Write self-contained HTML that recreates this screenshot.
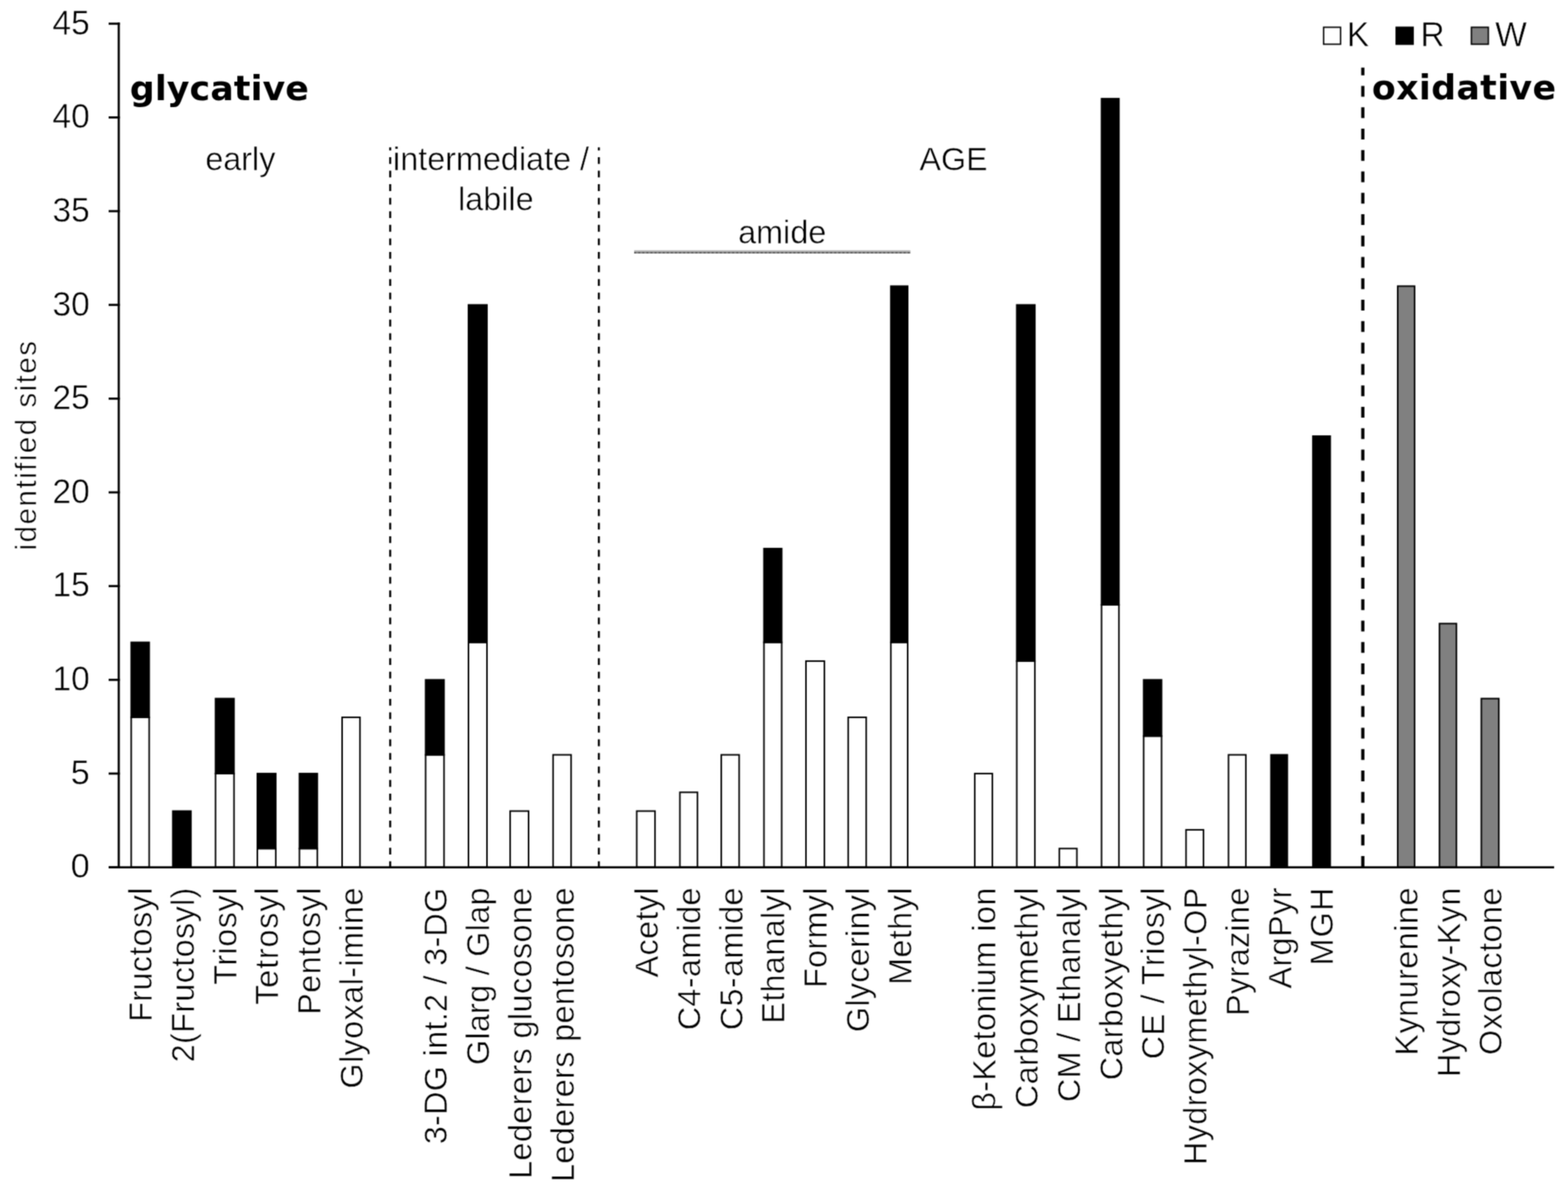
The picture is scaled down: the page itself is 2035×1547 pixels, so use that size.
<!DOCTYPE html>
<html><head><meta charset="utf-8"><title>identified sites</title>
<style>
html,body{margin:0;padding:0;background:#fff;}
body{width:2035px;height:1547px;overflow:hidden;}
svg{display:block;}
.t{font-family:"Liberation Sans", Arial, sans-serif;font-size:42px;fill:#000;stroke:#fff;stroke-width:0.6px;}
.tk{font-size:44.5px;}
.lg{font-size:43.5px;}
.b{font-family:"DejaVu Sans", Verdana, sans-serif;font-weight:bold;font-size:45px;fill:#000;}
</style></head>
<body>
<svg width="2035" height="1547" viewBox="0 0 2035 1547">
<defs><filter id="soft" filterUnits="userSpaceOnUse" x="0" y="0" width="2035" height="1547" color-interpolation-filters="sRGB"><feConvolveMatrix order="3" kernelMatrix="1 3 1 3 9 3 1 3 1" divisor="25" edgeMode="duplicate"/></filter></defs>
<g filter="url(#soft)">
<rect width="2035" height="1547" fill="#fff"/>
<g stroke="#000" stroke-width="2.0">
<rect x="170.30" y="930.96" width="23.30" height="194.64" fill="#fff"/>
<rect x="170.30" y="833.64" width="23.30" height="97.32" fill="#000"/>
<rect x="224.30" y="1052.61" width="23.50" height="72.99" fill="#000"/>
<rect x="279.70" y="1003.95" width="24.00" height="121.65" fill="#fff"/>
<rect x="279.70" y="906.63" width="24.00" height="97.32" fill="#000"/>
<rect x="334.00" y="1101.27" width="23.90" height="24.33" fill="#fff"/>
<rect x="334.00" y="1003.95" width="23.90" height="97.32" fill="#000"/>
<rect x="388.60" y="1101.27" width="23.20" height="24.33" fill="#fff"/>
<rect x="388.60" y="1003.95" width="23.20" height="97.32" fill="#000"/>
<rect x="444.00" y="930.96" width="23.20" height="194.64" fill="#fff"/>
<rect x="552.40" y="979.62" width="23.90" height="145.98" fill="#fff"/>
<rect x="552.40" y="882.30" width="23.90" height="97.32" fill="#000"/>
<rect x="608.00" y="833.64" width="24.00" height="291.96" fill="#fff"/>
<rect x="608.00" y="395.70" width="24.00" height="437.94" fill="#000"/>
<rect x="662.10" y="1052.61" width="23.90" height="72.99" fill="#fff"/>
<rect x="717.80" y="979.62" width="23.40" height="145.98" fill="#fff"/>
<rect x="826.40" y="1052.61" width="23.70" height="72.99" fill="#fff"/>
<rect x="882.40" y="1028.28" width="22.80" height="97.32" fill="#fff"/>
<rect x="936.10" y="979.62" width="23.20" height="145.98" fill="#fff"/>
<rect x="991.50" y="833.64" width="23.00" height="291.96" fill="#fff"/>
<rect x="991.50" y="711.99" width="23.00" height="121.65" fill="#000"/>
<rect x="1046.00" y="857.97" width="23.90" height="267.63" fill="#fff"/>
<rect x="1100.80" y="930.96" width="23.40" height="194.64" fill="#fff"/>
<rect x="1156.20" y="833.64" width="21.80" height="291.96" fill="#fff"/>
<rect x="1156.20" y="371.37" width="21.80" height="462.27" fill="#000"/>
<rect x="1265.10" y="1003.95" width="22.80" height="121.65" fill="#fff"/>
<rect x="1319.60" y="857.97" width="23.50" height="267.63" fill="#fff"/>
<rect x="1319.60" y="395.70" width="23.50" height="462.27" fill="#000"/>
<rect x="1374.80" y="1101.27" width="22.80" height="24.33" fill="#fff"/>
<rect x="1429.60" y="784.98" width="22.60" height="340.62" fill="#fff"/>
<rect x="1429.60" y="128.07" width="22.60" height="656.91" fill="#000"/>
<rect x="1484.30" y="955.29" width="23.20" height="170.31" fill="#fff"/>
<rect x="1484.30" y="882.30" width="23.20" height="72.99" fill="#000"/>
<rect x="1539.30" y="1076.94" width="22.60" height="48.66" fill="#fff"/>
<rect x="1594.40" y="979.62" width="22.50" height="145.98" fill="#fff"/>
<rect x="1649.50" y="979.62" width="21.20" height="145.98" fill="#000"/>
<rect x="1703.90" y="566.01" width="22.50" height="559.59" fill="#000"/>
<rect x="1814.00" y="371.37" width="21.90" height="754.23" fill="#808080"/>
<rect x="1868.20" y="809.31" width="22.00" height="316.29" fill="#808080"/>
<rect x="1922.50" y="906.63" width="22.70" height="218.97" fill="#808080"/>
</g>
<g stroke="#000" stroke-width="2.8">
<line x1="154.1" y1="29.35" x2="154.1" y2="1127.00"/>
<line x1="141" y1="1125.60" x2="2017" y2="1125.60"/>
<line x1="141" y1="1125.60" x2="155.5" y2="1125.60"/>
<line x1="141" y1="1003.95" x2="155.5" y2="1003.95"/>
<line x1="141" y1="882.30" x2="155.5" y2="882.30"/>
<line x1="141" y1="760.65" x2="155.5" y2="760.65"/>
<line x1="141" y1="639.00" x2="155.5" y2="639.00"/>
<line x1="141" y1="517.35" x2="155.5" y2="517.35"/>
<line x1="141" y1="395.70" x2="155.5" y2="395.70"/>
<line x1="141" y1="274.05" x2="155.5" y2="274.05"/>
<line x1="141" y1="152.40" x2="155.5" y2="152.40"/>
<line x1="141" y1="30.75" x2="155.5" y2="30.75"/>
</g>
<text x="116.6" y="1139.40" text-anchor="end" class="t tk">0</text>
<text x="116.6" y="1017.75" text-anchor="end" class="t tk">5</text>
<text x="116.6" y="896.10" text-anchor="end" textLength="48.6" lengthAdjust="spacingAndGlyphs" class="t tk">10</text>
<text x="116.6" y="774.45" text-anchor="end" textLength="48.6" lengthAdjust="spacingAndGlyphs" class="t tk">15</text>
<text x="116.6" y="652.80" text-anchor="end" textLength="48.6" lengthAdjust="spacingAndGlyphs" class="t tk">20</text>
<text x="116.6" y="531.15" text-anchor="end" textLength="48.6" lengthAdjust="spacingAndGlyphs" class="t tk">25</text>
<text x="116.6" y="409.50" text-anchor="end" textLength="48.6" lengthAdjust="spacingAndGlyphs" class="t tk">30</text>
<text x="116.6" y="287.85" text-anchor="end" textLength="48.6" lengthAdjust="spacingAndGlyphs" class="t tk">35</text>
<text x="116.6" y="166.20" text-anchor="end" textLength="48.6" lengthAdjust="spacingAndGlyphs" class="t tk">40</text>
<text x="116.6" y="44.55" text-anchor="end" textLength="48.6" lengthAdjust="spacingAndGlyphs" class="t tk">45</text>
<text transform="translate(197.08,1152) rotate(-90)" text-anchor="end" textLength="174.2" lengthAdjust="spacing" class="t">Fructosyl</text>
<text transform="translate(251.84,1152) rotate(-90)" text-anchor="end" textLength="226.7" lengthAdjust="spacing" class="t">2(Fructosyl)</text>
<text transform="translate(306.60,1152) rotate(-90)" text-anchor="end" textLength="126.1" lengthAdjust="spacing" class="t">Triosyl</text>
<text transform="translate(361.36,1152) rotate(-90)" text-anchor="end" textLength="151.9" lengthAdjust="spacing" class="t">Tetrosyl</text>
<text transform="translate(416.12,1152) rotate(-90)" text-anchor="end" textLength="165.1" lengthAdjust="spacing" class="t">Pentosyl</text>
<text transform="translate(470.88,1152) rotate(-90)" text-anchor="end" textLength="260.7" lengthAdjust="spacing" class="t">Glyoxal-imine</text>
<text transform="translate(580.40,1152) rotate(-90)" text-anchor="end" textLength="333.1" lengthAdjust="spacing" class="t">3-DG int.2 / 3-DG</text>
<text transform="translate(635.16,1152) rotate(-90)" text-anchor="end" textLength="230.3" lengthAdjust="spacing" class="t">Glarg / Glap</text>
<text transform="translate(689.92,1152) rotate(-90)" text-anchor="end" textLength="378.1" lengthAdjust="spacing" class="t">Lederers glucosone</text>
<text transform="translate(744.68,1152) rotate(-90)" text-anchor="end" textLength="382.0" lengthAdjust="spacing" class="t">Lederers pentosone</text>
<text transform="translate(854.20,1152) rotate(-90)" text-anchor="end" textLength="116.4" lengthAdjust="spacing" class="t">Acetyl</text>
<text transform="translate(908.96,1152) rotate(-90)" text-anchor="end" textLength="184.9" lengthAdjust="spacing" class="t">C4-amide</text>
<text transform="translate(963.72,1152) rotate(-90)" text-anchor="end" textLength="184.9" lengthAdjust="spacing" class="t">C5-amide</text>
<text transform="translate(1018.48,1152) rotate(-90)" text-anchor="end" textLength="176.6" lengthAdjust="spacing" class="t">Ethanalyl</text>
<text transform="translate(1073.24,1152) rotate(-90)" text-anchor="end" textLength="130.3" lengthAdjust="spacing" class="t">Formyl</text>
<text transform="translate(1128.00,1152) rotate(-90)" text-anchor="end" textLength="187.4" lengthAdjust="spacing" class="t">Glycerinyl</text>
<text transform="translate(1182.76,1152) rotate(-90)" text-anchor="end" textLength="126.3" lengthAdjust="spacing" class="t">Methyl</text>
<text transform="translate(1292.28,1152) rotate(-90)" text-anchor="end" textLength="289.6" lengthAdjust="spacing" class="t">β-Ketonium ion</text>
<text transform="translate(1347.04,1152) rotate(-90)" text-anchor="end" textLength="286.2" lengthAdjust="spacing" class="t">Carboxymethyl</text>
<text transform="translate(1401.80,1152) rotate(-90)" text-anchor="end" textLength="278.3" lengthAdjust="spacing" class="t">CM / Ethanalyl</text>
<text transform="translate(1456.56,1152) rotate(-90)" text-anchor="end" textLength="250.0" lengthAdjust="spacing" class="t">Carboxyethyl</text>
<text transform="translate(1511.32,1152) rotate(-90)" text-anchor="end" textLength="222.7" lengthAdjust="spacing" class="t">CE / Triosyl</text>
<text transform="translate(1566.08,1152) rotate(-90)" text-anchor="end" textLength="360.0" lengthAdjust="spacing" class="t">Hydroxymethyl-OP</text>
<text transform="translate(1620.84,1152) rotate(-90)" text-anchor="end" textLength="166.4" lengthAdjust="spacing" class="t">Pyrazine</text>
<text transform="translate(1675.60,1152) rotate(-90)" text-anchor="end" textLength="130.9" lengthAdjust="spacing" class="t">ArgPyr</text>
<text transform="translate(1730.36,1152) rotate(-90)" text-anchor="end" textLength="101.0" lengthAdjust="spacing" class="t">MGH</text>
<text transform="translate(1839.88,1152) rotate(-90)" text-anchor="end" textLength="217.9" lengthAdjust="spacing" class="t">Kynurenine</text>
<text transform="translate(1894.64,1152) rotate(-90)" text-anchor="end" textLength="245.8" lengthAdjust="spacing" class="t">Hydroxy-Kyn</text>
<text transform="translate(1949.40,1152) rotate(-90)" text-anchor="end" textLength="217.3" lengthAdjust="spacing" class="t">Oxolactone</text>
<text transform="translate(46.9,578.4) rotate(-90)" text-anchor="middle" textLength="272" lengthAdjust="spacing" class="t" style="font-size:38.5px">identified sites</text>
<line x1="506.4" y1="191.3" x2="506.4" y2="1125" stroke="#000" stroke-width="2.6" stroke-dasharray="8.8 8.773" stroke-dashoffset="4.9"/>
<line x1="777.2" y1="191.3" x2="777.2" y2="1125" stroke="#000" stroke-width="2.6" stroke-dasharray="8.8 8.773" stroke-dashoffset="4.9"/>
<line x1="1768.7" y1="87.8" x2="1768.7" y2="1125" stroke="#000" stroke-width="4.2" stroke-dasharray="14 13.764" stroke-dashoffset="4.1"/>
<rect x="823" y="324.8" width="358.5" height="2.1" fill="#b2b2b2"/>
<rect x="823" y="326.9" width="358.5" height="2.1" fill="#868686"/>
<line x1="823" y1="327.95" x2="1181.5" y2="327.95" stroke="#5a5a5a" stroke-width="2.1" stroke-dasharray="2.6 2.7"/>
<text x="311.9" y="221" text-anchor="middle" class="t">early</text>
<text x="637.3" y="220.6" text-anchor="middle" class="t">intermediate /</text>
<text x="643.5" y="273" text-anchor="middle" class="t">labile</text>
<text x="1237.5" y="220.7" text-anchor="middle" class="t">AGE</text>
<text x="1015.2" y="316.4" text-anchor="middle" class="t">amide</text>
<text x="168.5" y="130" textLength="232.3" lengthAdjust="spacing" class="b">glycative</text>
<text x="1780.5" y="128.7" textLength="239" lengthAdjust="spacing" class="b">oxidative</text>
<g stroke="#000" stroke-width="1.8">
<rect x="1717.8" y="35.4" width="22" height="22" fill="#fff"/>
<rect x="1812" y="35.4" width="22" height="22" fill="#000"/>
<rect x="1909.6" y="35.4" width="22" height="22" fill="#808080"/>
</g>
<text x="1748" y="59.8" class="t lg">K</text>
<text x="1843.5" y="59.8" class="t lg">R</text>
<text x="1940.5" y="59.8" class="t lg">W</text>
</g>
</svg>
</body></html>
